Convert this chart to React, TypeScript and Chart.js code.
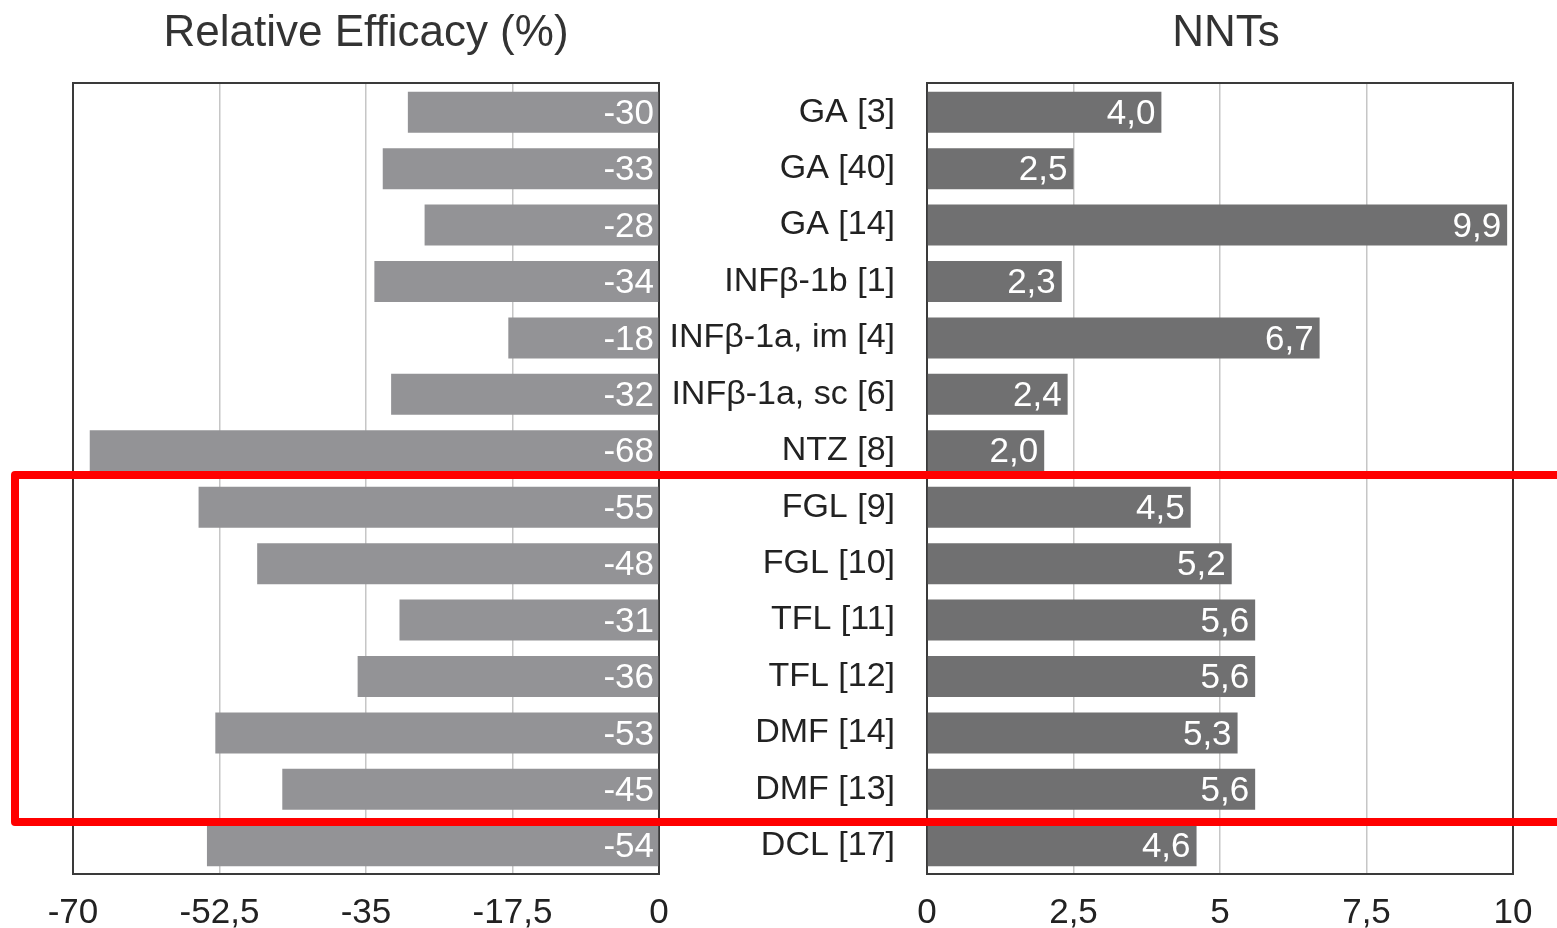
import React, { useEffect, useRef } from "react";
import { Chart, registerables } from "chart.js";

Chart.register(...registerables);

const categories = [
  "GA [3]",
  "GA [40]",
  "GA [14]",
  "INFβ-1b [1]",
  "INFβ-1a, im [4]",
  "INFβ-1a, sc [6]",
  "NTZ [8]",
  "FGL [9]",
  "FGL [10]",
  "TFL [11]",
  "TFL [12]",
  "DMF [14]",
  "DMF [13]",
  "DCL [17]",
];
const relativeEfficacy = [-30, -33, -28, -34, -18, -32, -68, -55, -48, -31, -36, -53, -45, -54];
const nnts = [4.0, 2.5, 9.9, 2.3, 6.7, 2.4, 2.0, 4.5, 5.2, 5.6, 5.6, 5.3, 5.6, 4.6];
const leftTicks = { min: -70, max: 0, step: 17.5 };
const rightTicks = { min: 0, max: 10, step: 2.5 };
const leftTitle = "Relative Efficacy (%)";
const rightTitle = "NNTs";
const highlightRows = { first: 7, last: 12 };

const FONT = "'Liberation Sans', Arial, Helvetica, sans-serif";
const LEFT_W = 700;
const RIGHT_X = 600;
const TOTAL_W = 1557;
const H = 928;
const PLOT_TOP = 84;
const PLOT_BOTTOM = 874;
const LEFT_PLOT = { l: 73, r: 659 };
const RIGHT_PLOT = { l: 927, r: 1513 };

const comma = (v: number, d: number) => v.toFixed(d).replace(".", ",");

function makePlugins(side: "left" | "right") {
  const frame = {
    id: "frame",
    beforeDatasetsDraw(chart: any) {
      const { ctx, chartArea: a } = chart;
      ctx.save();
      ctx.strokeStyle = "#3a3a3a";
      ctx.lineWidth = 2;
      ctx.strokeRect(a.left, a.top - 1, a.right - a.left, a.bottom - a.top + 1);
      ctx.restore();
    },
  };
  const labels = {
    id: "valueLabels",
    afterDatasetsDraw(chart: any) {
      const { ctx } = chart;
      const meta = chart.getDatasetMeta(0);
      const xs = chart.scales.x;
      ctx.save();
      ctx.fillStyle = "#ffffff";
      ctx.font = `35px ${FONT}`;
      ctx.textAlign = "right";
      ctx.textBaseline = "middle";
      meta.data.forEach((bar: any, i: number) => {
        const v = chart.data.datasets[0].data[i] as number;
        if (side === "left") {
          ctx.fillText(String(v), xs.getPixelForValue(0) - 5, bar.y + 2);
        } else {
          ctx.fillText(comma(v, 1), bar.x - 6, bar.y + 2);
        }
      });
      ctx.restore();
    },
  };
  const title = {
    id: "panelTitle",
    afterDraw(chart: any) {
      const { ctx, chartArea: a } = chart;
      ctx.save();
      ctx.fillStyle = "#333333";
      ctx.font = `44px ${FONT}`;
      ctx.textAlign = "center";
      ctx.textBaseline = "middle";
      const cx = (a.left + a.right) / 2 + (side === "right" ? 6 : 0);
      ctx.fillText(side === "left" ? leftTitle : rightTitle, cx, 34);
      ctx.restore();
    },
  };
  const highlight = {
    id: "highlight",
    afterDraw(chart: any) {
      const { ctx, chartArea: a, width } = chart;
      const ys = chart.scales.y;
      const top = ys.getPixelForValue(highlightRows.first - 0.5) - 4;
      const bottom = ys.getPixelForValue(highlightRows.last + 0.5) + 4.5;
      ctx.save();
      ctx.strokeStyle = "#ff0000";
      ctx.lineWidth = 8;
      ctx.lineJoin = "round";
      ctx.beginPath();
      if (side === "left") {
        const left = a.left - 58;
        ctx.moveTo(width + 10, top);
        ctx.lineTo(left, top);
        ctx.lineTo(left, bottom);
        ctx.lineTo(width + 10, bottom);
      } else {
        ctx.moveTo(-10, top);
        ctx.lineTo(width + 10, top);
        ctx.moveTo(-10, bottom);
        ctx.lineTo(width + 10, bottom);
      }
      ctx.stroke();
      ctx.restore();
    },
  };
  return [frame, labels, title, highlight];
}

function buildConfig(side: "left" | "right"): any {
  const isLeft = side === "left";
  const t = isLeft ? leftTicks : rightTicks;
  const canvasW = isLeft ? LEFT_W : TOTAL_W - RIGHT_X;
  return {
    type: "bar",
    data: {
      labels: categories,
      datasets: [
        {
          data: isLeft ? relativeEfficacy : nnts,
          backgroundColor: isLeft ? "#939396" : "#707071",
          borderWidth: 0,
          barPercentage: 0.727,
          categoryPercentage: 1,
        },
      ],
    },
    options: {
      indexAxis: "y",
      animation: false,
      responsive: false,
      devicePixelRatio: 1,
      layout: {
        padding: isLeft
          ? { left: LEFT_PLOT.l, right: LEFT_W - LEFT_PLOT.r, top: PLOT_TOP, bottom: 0 }
          : { left: 0, right: canvasW - (RIGHT_PLOT.r - RIGHT_X), top: PLOT_TOP, bottom: 0 },
      },
      plugins: { legend: { display: false }, title: { display: false }, tooltip: { enabled: false } },
      scales: {
        x: {
          type: "linear",
          min: t.min,
          max: t.max,
          afterBuildTicks(scale: any) {
            const ticks = [];
            for (let v = t.min; v <= t.max + 1e-9; v += t.step) ticks.push({ value: v });
            scale.ticks = ticks;
          },
          afterFit(scale: any) {
            scale.height = H - PLOT_BOTTOM;
          },
          grid: { color: "#c6c6c6", lineWidth: 1.5, drawTicks: false },
          border: { display: false },
          ticks: {
            padding: 18,
            color: "#222222",
            font: { family: FONT, size: 35 },
            maxRotation: 0,
            autoSkip: false,
            callback: (v: number) => comma(v, v % 1 === 0 ? 0 : 1),
          },
        },
        y: {
          type: "category",
          display: !isLeft,
          afterFit(scale: any) {
            if (!isLeft) scale.width = RIGHT_PLOT.l - RIGHT_X;
          },
          grid: { display: false, drawTicks: false },
          border: { display: false },
          ticks: {
            padding: 32,
            color: "#222222",
            font: { family: FONT, size: 34, lineHeight: 1.1 },
            autoSkip: false,
          },
        },
      },
    },
    plugins: makePlugins(side),
  };
}

function Panel({ side, left, width }: { side: "left" | "right"; left: number; width: number }) {
  const ref = useRef<HTMLCanvasElement | null>(null);
  useEffect(() => {
    if (!ref.current) return;
    const chart = new Chart(ref.current, buildConfig(side));
    return () => chart.destroy();
  }, [side]);
  return (
    <canvas
      ref={ref}
      width={width}
      height={H}
      style={{ position: "absolute", left, top: 0, width, height: H, display: "block" }}
    />
  );
}

export default function App() {
  useEffect(() => {
    document.body.style.margin = "0";
    document.body.style.background = "#ffffff";
  }, []);
  return (
    <div style={{ position: "relative", width: TOTAL_W, height: H, background: "#ffffff", overflow: "hidden" }}>
      <Panel side="left" left={0} width={LEFT_W} />
      <Panel side="right" left={RIGHT_X} width={TOTAL_W - RIGHT_X} />
    </div>
  );
}
